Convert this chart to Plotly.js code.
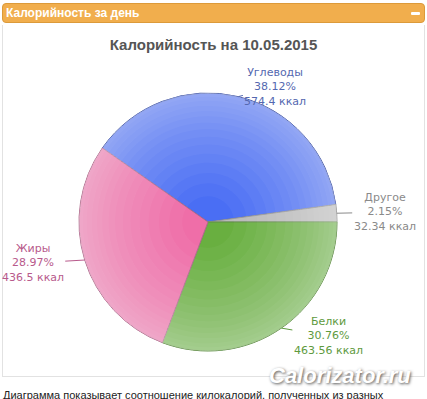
<!DOCTYPE html>
<html>
<head>
<meta charset="utf-8">
<script src="https://cdn.plot.ly/plotly-3.0.1.min.js"></script>
<style>
  html, body { margin:0; padding:0; background:#fff; width:427px; height:399px; overflow:hidden; font-family:"Liberation Sans", Arial, sans-serif; }
  #hdr { position:absolute; left:2px; top:3px; width:421px; height:18px; background:#f1ae4d; border:1px solid #dc9a3a; border-radius:4px; }
  #hdr span { position:absolute; left:3px; top:2px; color:#fff; font-weight:bold; font-size:12px; line-height:14px; }
  #hdr i { position:absolute; right:4px; top:8px; width:9px; height:3px; background:#fff; border-radius:1px; }
  #panel { position:absolute; left:2px; top:25px; width:421px; height:351px; border:1px solid #e2e2e2; border-top:none; }
  #foot { position:absolute; left:3px; top:389px; color:#222; white-space:nowrap; font-family:"Liberation Sans", Arial, sans-serif; font-size:11px; line-height:13px; }
  #chart { position:absolute; left:0; top:0; width:427px; height:399px; }
</style>
</head>
<body>
<div id="hdr"><span>Калорийность за день</span><i></i></div>
<div id="panel"></div>
<div id="foot">Диаграмма показывает соотношение килокалорий, полученных из разных</div>
<div id="chart"></div>
<script>
// ---- data ----
const categories = ["Углеводы", "Другое", "Белки", "Жиры"];
const kcal = [574.4, 32.34, 463.56, 436.5];
const percents = ["38.12%", "2.15%", "30.76%", "28.97%"];

// ---- style ----
const sliceColors = ["#4a6ef4", "#bababa", "#69af40", "#ef6ea8"];
const borderColors = ["#4458a8", "#9a9a9a", "#5f8f45", "#b06a8c"];
const labelColors = ["#5468b0", "#8a8a8a", "#5e9a3e", "#b85a8c"];
// label offsets in px from the slice edge, same order as categories
const labelOffsets = [[37, -10], [48, -1], [47, 8], [-52, 3]];
const W = 427, H = 399;
const cx = 208, cy = 222, R = 129;
const rotation = -55;
const dom = { x: [(cx - R) / W, (cx + R) / W], y: [(H - cy - R) / H, (H - cy + R) / H] };

const traces = [{
  type: "pie",
  labels: categories,
  values: kcal,
  sort: false,
  direction: "clockwise",
  rotation: rotation,
  textinfo: "none",
  hoverinfo: "label+value+percent",
  marker: { colors: sliceColors, line: { color: borderColors, width: 1 } },
  domain: dom,
  showlegend: false
}];
// soft lightening towards the rim (radial shading)
const shadeHoles = [0.2, 0.3, 0.38, 0.46, 0.53, 0.6, 0.66, 0.72, 0.77, 0.82, 0.86, 0.9, 0.94, 0.97];
shadeHoles.forEach(h => {
  traces.push({
    type: "pie", labels: categories, values: kcal, sort: false,
    direction: "clockwise", rotation: rotation, hole: h, textinfo: "none", hoverinfo: "skip",
    marker: { colors: categories.map(() => "rgba(255,255,255,0.04)"), line: { width: 0 } },
    domain: dom, showlegend: false
  });
});

// label annotations at slice mid-angles
const total = kcal.reduce((a, b) => a + b, 0);
let ang = rotation;
const anns = [];
categories.forEach((c, i) => {
  const span = kcal[i] / total * 360;
  const mid = (ang + span / 2) * Math.PI / 180;
  ang += span;
  const px = cx + R * Math.sin(mid), py = cy - R * Math.cos(mid);
  anns.push({
    xref: "paper", yref: "paper",
    x: px / W, y: 1 - py / H,
    text: c + "<br>" + percents[i] + "<br>" + kcal[i] + " ккал",
    showarrow: true, arrowhead: 0, arrowwidth: 1, arrowcolor: labelColors[i], standoff: 0,
    ax: labelOffsets[i][0], ay: labelOffsets[i][1],
    align: "center",
    font: { family: "DejaVu Sans, Verdana, sans-serif", size: 11, color: labelColors[i] }
  });
});
anns.push({
  xref: "paper", yref: "paper", x: 340 / W, y: 1 - 375 / H, xanchor: "center", yanchor: "middle", showarrow: false,
  text: "<b><i>Calorizator.ru</i></b>",
  font: { family: "Liberation Sans, Arial, sans-serif", size: 22, color: "#ffffff", shadow: "1px 1px 3px #555" }
});

const layout = {
  width: W, height: H,
  margin: { l: 0, r: 0, t: 0, b: 0 },
  paper_bgcolor: "rgba(0,0,0,0)",
  plot_bgcolor: "rgba(0,0,0,0)",
  title: {
    text: "<b>Калорийность на 10.05.2015</b>",
    x: 0.5, xanchor: "center", y: 1 - 45 / H, yanchor: "middle",
    font: { family: "Liberation Sans, Arial, sans-serif", size: 15, color: "#555555" }
  },
  annotations: anns
};

Plotly.newPlot("chart", traces, layout, { displayModeBar: false, staticPlot: true });
</script>
</body>
</html>
